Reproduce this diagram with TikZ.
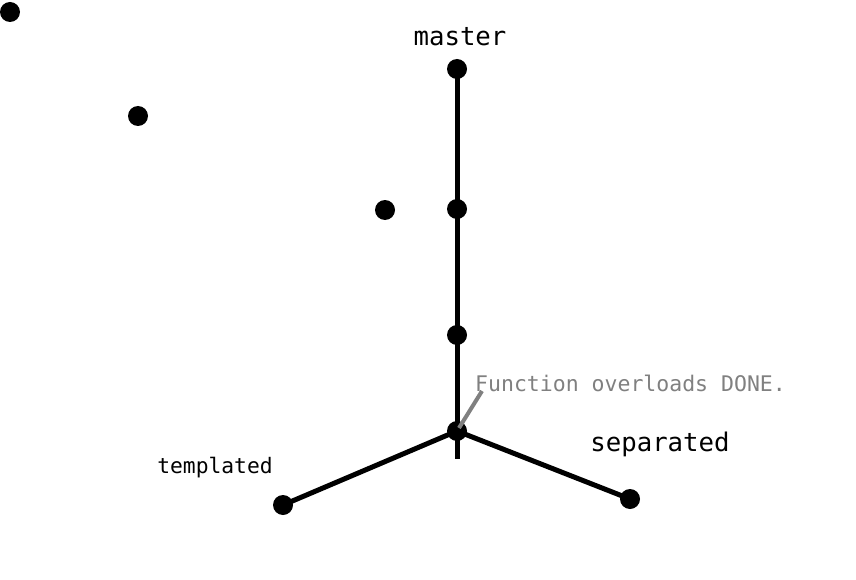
\documentclass[tikz,border=0pt]{standalone}
\usepackage{fontspec}
\setmonofont{DejaVu Sans Mono}
\begin{document}
\begin{tikzpicture}[x=1pt,y=-1pt,
  dot/.style={circle,fill=black,inner sep=0pt,minimum size=20pt},
  branch/.style={line width=5pt},
  lbl/.style={font=\ttfamily,inner sep=0pt,anchor=center},
  note/.style={font=\ttfamily\fontsize{21.5}{24}\selectfont,text=gray,inner sep=0pt,anchor=west}]
\useasboundingbox (0,0) rectangle (856,580);
\node[dot] (d1) at (10,12) {};
\node[dot] (d2) at (138,116) {};
\node[dot] (d3) at (385,210) {};
\node[dot] (m1) at (457,69) {};
\node[dot] (m2) at (457,209) {};
\node[dot] (m3) at (457,335) {};
\node[dot] (j) at (457,431) {};
\coordinate (tail) at (457,459);
\node[dot] (t) at (283,505) {};
\node[dot] (s) at (630,499) {};
\draw[branch] (m1.center) -- (m2.center) -- (m3.center) -- (j.center) -- (tail);
\draw[branch] (j.center) -- (t.center);
\draw[branch] (j.center) -- (s.center);
\node[lbl,font=\ttfamily\fontsize{25.7}{28}\selectfont] (lm) at (460,37) {master};
\node[lbl,font=\ttfamily\fontsize{21.3}{24}\selectfont] (lt) at (215,468) {templated};
\node[lbl,font=\ttfamily\fontsize{25.7}{28}\selectfont] (ls) at (660,444) {separated};
\node[note] (n) at (475,383) {Function overloads DONE.};
\coordinate (nt) at (482,391);
\draw[gray,line width=4pt] (nt) -- (459,428);
\end{tikzpicture}
\end{document}
